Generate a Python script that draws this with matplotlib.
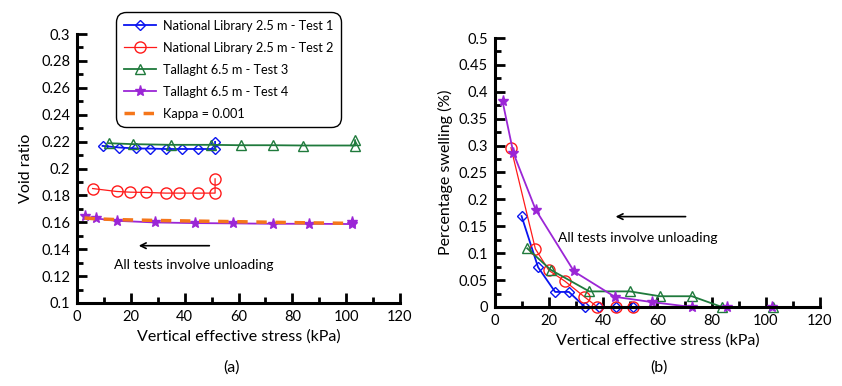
import matplotlib
matplotlib.use("Agg")
import matplotlib.pyplot as plt
from matplotlib.ticker import MultipleLocator, FuncFormatter

plt.rcParams['font.family'] = ['Lato', 'DejaVu Sans']

# ---- Data: panel (a) void ratio ----
t1_x = [51.3, 51.3, 44.8, 39.0, 33.0, 27.3, 22.0, 15.7, 9.5]
t1_e = [0.2198, 0.2145, 0.2145, 0.2145, 0.2145, 0.2148, 0.2149, 0.2156, 0.2168]
t2_x = [51.3, 51.3, 44.9, 38.0, 33.0, 25.7, 19.8, 14.8, 5.8]
t2_e = [0.1923, 0.1817, 0.1817, 0.1817, 0.1817, 0.1822, 0.1824, 0.1829, 0.1851]
t3_x = [103.3, 103.3, 84.0, 73.0, 61.0, 49.9, 35.0, 20.9, 11.8]
t3_e = [0.2210, 0.2171, 0.2171, 0.2173, 0.2173, 0.2176, 0.2176, 0.2181, 0.2188]
t4_x = [102.1, 102.1, 86.1, 73.0, 58.0, 44.0, 28.8, 14.8, 6.9, 2.8]
t4_e = [0.1599, 0.1587, 0.1589, 0.1589, 0.1592, 0.1594, 0.1599, 0.1611, 0.1629, 0.1644]
kappa_x = [2.8, 6.9, 14.8, 28.8, 44.0, 58.0, 73.0, 86.1, 102.1]
kappa_e = [0.1632, 0.1626, 0.1620, 0.1614, 0.1609, 0.1605, 0.1600, 0.1596, 0.1592]

# ---- Data: panel (b) percentage swelling ----
s1_x = [9.8, 15.9, 22.2, 27.3, 33.2, 38.5, 44.7, 51.1]
s1_y = [0.169, 0.074, 0.028, 0.028, 0.0, 0.0, 0.0, 0.0]
s2_x = [5.9, 14.9, 19.9, 25.8, 33.0, 37.8, 44.7, 51.1]
s2_y = [0.296, 0.108, 0.068, 0.048, 0.019, 0.0, 0.0, 0.0]
s3_x = [11.9, 20.6, 34.8, 49.8, 60.9, 72.7, 83.8, 102.8]
s3_y = [0.109, 0.069, 0.029, 0.029, 0.020, 0.020, 0.0, 0.0]
s4_x = [2.8, 6.8, 15.0, 29.2, 44.2, 58.1, 72.7, 85.8, 102.3]
s4_y = [0.382, 0.286, 0.181, 0.066, 0.019, 0.009, 0.0, 0.0, 0.0]

labels = ['National Library 2.5 m - Test 1', 'National Library 2.5 m - Test 2',
          'Tallaght 6.5 m - Test 3', 'Tallaght 6.5 m - Test 4', 'Kappa = 0.001']

C_BLUE = '#0a14f0'
C_RED = '#ff1a1a'
C_GREEN = '#1f7a3c'
C_PURPLE = '#9b26d6'
C_ORANGE = '#f5761a'

fig = plt.figure(figsize=(8.42, 3.86), dpi=100)
ax1 = fig.add_axes([77/842, 1-303/386, (400-77)/842, (303-34)/386])
ax2 = fig.add_axes([495/842, 1-307/386, (820-495)/842, (307-38)/386])

def style(ax):
    for s in ['top', 'right']:
        ax.spines[s].set_visible(False)
    for s in ['left', 'bottom']:
        ax.spines[s].set_linewidth(2.2)
    ax.tick_params(which='major', direction='in', length=7, width=2, labelsize=10.5, pad=5)
    ax.tick_params(which='minor', direction='in', length=4, width=2)
    ax.xaxis.set_major_locator(MultipleLocator(20))
    ax.xaxis.set_minor_locator(MultipleLocator(10))
    ax.set_xlim(0, 120)
    ax.set_xlabel('Vertical effective stress (kPa)', fontsize=11.5)

gfmt = FuncFormatter(lambda v, p: ('%g' % round(v, 4)))

# Panel (a)
ax1.plot(t1_x, t1_e, color=C_BLUE, marker='D', ms=5, mfc='none', mec=C_BLUE, lw=1.3, label=labels[0])
ax1.plot(t2_x, t2_e, color=C_RED, marker='o', ms=8, mfc='none', mec=C_RED, lw=0.9, label=labels[1])
ax1.plot(t3_x, t3_e, color=C_GREEN, marker='^', ms=7, mfc='none', mec=C_GREEN, lw=1.3, label=labels[2])
ax1.plot(t4_x, t4_e, color=C_PURPLE, marker='*', ms=8, mfc=C_PURPLE, mec=C_PURPLE, lw=1.3, label=labels[3])
ax1.plot(kappa_x, kappa_e, color=C_ORANGE, ls=(0, (3, 2.5)), lw=2.5, label=labels[4])
style(ax1)
ax1.set_ylim(0.1, 0.3)
ax1.yaxis.set_major_locator(MultipleLocator(0.02))
ax1.yaxis.set_minor_locator(MultipleLocator(0.01))
ax1.yaxis.set_major_formatter(gfmt)
ax1.set_ylabel('Void ratio', fontsize=11.5, labelpad=6)
ax1.annotate('', xy=(21.9, 0.1426), xytext=(50.2, 0.1426),
             arrowprops=dict(arrowstyle='->', color='black', lw=1.2))
ax1.text(43.5, 0.128, 'All tests involve unloading', ha='center', va='center', fontsize=10)
leg = ax1.legend(loc='upper left', bbox_to_anchor=(116/842, 1-12/386), bbox_transform=fig.transFigure,
                 fontsize=9.2, frameon=True, fancybox=True, handlelength=2.5, borderpad=0.6,
                 labelspacing=0.78, handletextpad=0.6, borderaxespad=0)
leg.get_frame().set_edgecolor('black')
leg.get_frame().set_linewidth(1.0)
leg.get_frame().set_alpha(1)
leg.get_frame().set_boxstyle('round,pad=0,rounding_size=0.8')

# Panel (b)
ax2.plot(s1_x, s1_y, color=C_BLUE, marker='D', ms=5, mfc='none', mec=C_BLUE, lw=1.3, clip_on=False)
ax2.plot(s2_x, s2_y, color=C_RED, marker='o', ms=8, mfc='none', mec=C_RED, lw=0.9, clip_on=False)
ax2.plot(s3_x, s3_y, color=C_GREEN, marker='^', ms=7, mfc='none', mec=C_GREEN, lw=1.3, clip_on=False)
ax2.plot(s4_x, s4_y, color=C_PURPLE, marker='*', ms=8, mfc=C_PURPLE, mec=C_PURPLE, lw=1.3, clip_on=False)
style(ax2)
ax2.set_ylim(0, 0.5)
ax2.yaxis.set_major_locator(MultipleLocator(0.05))
ax2.yaxis.set_minor_locator(MultipleLocator(0.025))
ax2.yaxis.set_major_formatter(gfmt)
ax2.set_ylabel('Percentage swelling (%)', fontsize=11.5)
ax2.annotate('', xy=(43.5, 0.168), xytext=(71.4, 0.168),
             arrowprops=dict(arrowstyle='->', color='black', lw=1.2))
ax2.text(52.7, 0.128, 'All tests involve unloading', ha='center', va='center', fontsize=10)

fig.text(232/842, 1-368/386, '(a)', ha='center', va='center', fontsize=11.5)
fig.text(659/842, 1-368/386, '(b)', ha='center', va='center', fontsize=11.5)

fig.savefig('out.png', dpi=100)
